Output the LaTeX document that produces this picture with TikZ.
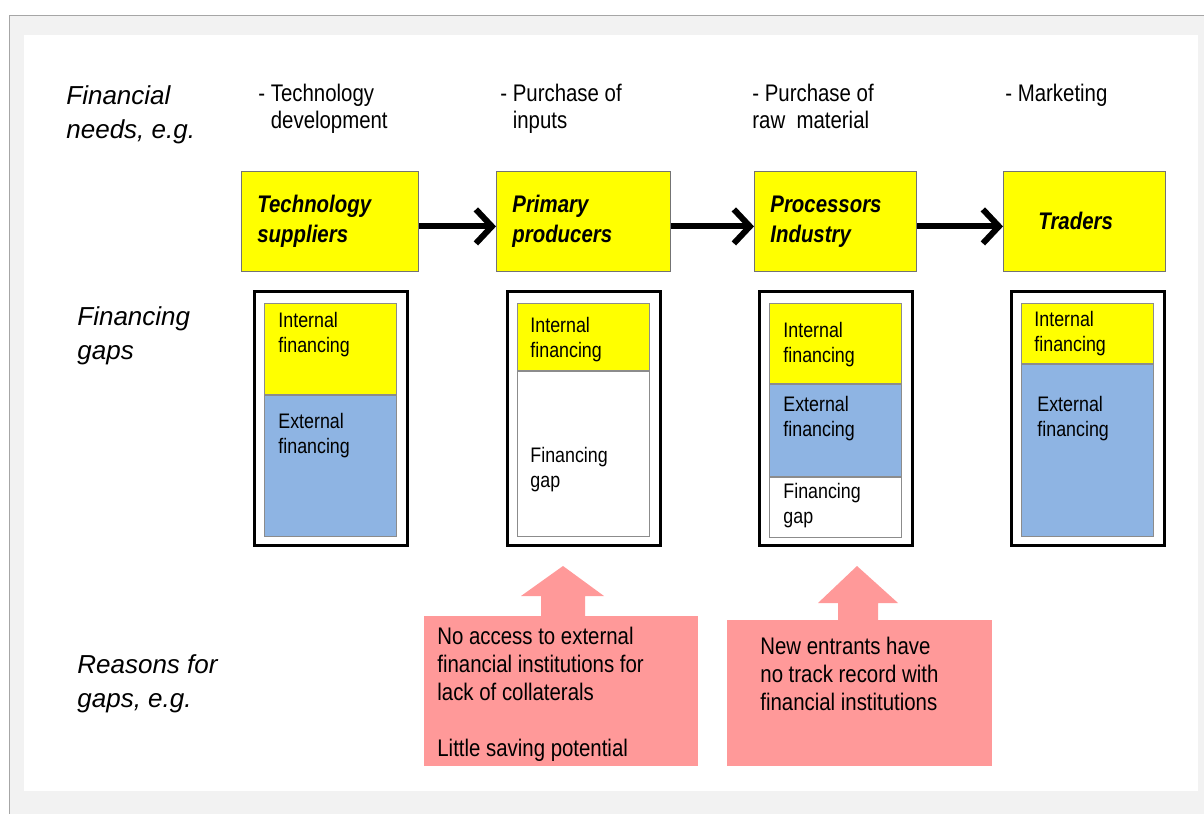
\documentclass[tikz,border=0pt]{standalone}
\usepackage{fontspec}
\setmainfont{Liberation Sans}
\newfontfamily\narrowsf[FakeStretch=0.85]{Liberation Sans}
\usetikzlibrary{positioning, arrows.meta}

\definecolor{chainyellow}{HTML}{FFFF00}
\definecolor{extblue}{HTML}{8EB4E3}
\definecolor{reasonpink}{HTML}{FF9999}
\definecolor{slidegray}{HTML}{F2F2F2}
\definecolor{rulegray}{HTML}{A6A6A6}

\begin{document}
\begin{tikzpicture}[x=0.5pt, y=-0.5pt,
    every node/.style={inner sep=0pt},
    rowlabel/.style={anchor=north west, align=left, font=\itshape\fontsize{13}{17}\selectfont},
    needtext/.style={anchor=north west, align=left, font=\narrowsf\fontsize{12}{13.5}\selectfont},
    actor/.style={draw=black!55, fill=chainyellow, anchor=north west, inner xsep=8pt, minimum height=50pt, align=left, font=\narrowsf\bfseries\itshape\fontsize{12}{15}\selectfont},
    gapframe/.style={draw, line width=1.5pt, minimum width=76.5pt, minimum height=127pt},
    bar/.style={draw=black!45, anchor=north west, minimum width=66pt},
    bartext/.style={anchor=north west, align=left, font=\narrowsf\fontsize{10.5}{12.5}\selectfont},
    reasontext/.style={anchor=north west, align=left, font=\narrowsf\fontsize{12}{14}\selectfont},
    flow/.style={line width=3pt, -{Straight Barb[length=8pt, width=17pt]}}
  ]
  % slide background
  \useasboundingbox (0,0) rectangle (1204,814);
  \fill[slidegray] (9,15) rectangle (1204,814);
  \draw[rulegray] (1204,15) -- (9,15) -- (9,814);
  \fill[white] (24,35) rectangle (1198,791);

  % row labels
  \node[rowlabel] (needs) at (66,85) {Financial\\needs, e.g.};
  \node[rowlabel] (gaps) at (77,306) {Financing\\gaps};
  \node[rowlabel] (reasons) at (77,654) {Reasons for\\gaps, e.g.};

  % financial needs
  \node[needtext] (need1) at (258,84) {- Technology\\\phantom{- }development};
  \node[needtext] (need2) at (500,84) {- Purchase of\\\phantom{- }inputs};
  \node[needtext] (need3) at (752,84) {- Purchase of\\raw~ material};
  \node[needtext] (need4) at (1005,84) {- Marketing};

  % value chain
  \node[actor, text width=72.5pt] (ts) at (241,171) {Technology\\suppliers};
  \node[actor, text width=71pt] (pp) at (496,171) {Primary\\producers};
  \node[actor, text width=65pt] (pi) at (754,171) {Processors\\Industry};
  \node[actor, text width=65pt] (tr) at (1003,171) {\hspace{9.5pt}Traders};

  \draw[flow] ([yshift=-2.5pt]ts.east) -- ([yshift=-2.5pt]pp.west);
  \draw[flow] ([yshift=-2.5pt]pp.east) -- ([yshift=-2.5pt]pi.west);
  \draw[flow] ([yshift=-2.5pt]pi.east) -- ([yshift=-2.5pt]tr.west);

  % financing gaps
  \node[gapframe] (frame1) at (330.5,418) {};
  \node[gapframe] (frame2) at (583.5,418) {};
  \node[gapframe] (frame3) at (836,418) {};
  \node[gapframe] (frame4) at (1087.5,418) {};

  \node[bar, fill=chainyellow, minimum height=45.5pt] (int1) at (264,303) {};
  \node[bar, fill=extblue, minimum height=70.5pt] (ext1) at (int1.south west) {};
  \node[bar, fill=chainyellow, minimum height=33.5pt] (int2) at (517,303) {};
  \node[bar, fill=white, minimum height=82.5pt] (gap2) at (int2.south west) {};
  \node[bar, fill=chainyellow, minimum height=40pt] (int3) at (769,303) {};
  \node[bar, fill=extblue, minimum height=46pt] (ext3) at (int3.south west) {};
  \node[bar, fill=white, minimum height=30pt] (gap3) at (ext3.south west) {};
  \node[bar, fill=chainyellow, minimum height=30pt] (int4) at (1021,303) {};
  \node[bar, fill=extblue, minimum height=86pt] (ext4) at (int4.south west) {};

  \node[bartext] (int1t) at (278,312) {Internal\\financing};
  \node[bartext] (ext1t) at (278,413) {External\\financing};
  \node[bartext] (int2t) at (530,317) {Internal\\financing};
  \node[bartext] (gap2t) at (530,447) {Financing\\gap};
  \node[bartext] (int3t) at (783,322) {Internal\\financing};
  \node[bartext] (ext3t) at (783,396) {External\\financing};
  \node[bartext] (gap3t) at (783,483) {Financing\\gap};
  \node[bartext] (int4t) at (1034,311) {Internal\\financing};
  \node[bartext] (ext4t) at (1037,396) {External\\financing};

  % reasons for gaps
  \fill[reasonpink] (424,616) rectangle (698,766);
  \fill[reasonpink] (541,617) -- (541,596) -- (521,596) -- (563,566) -- (604,596) -- (585,596) -- (585,617) -- cycle;
  \fill[reasonpink] (727,620) rectangle (992,766);
  \fill[reasonpink] (838,621) -- (838,603) -- (818,603) -- (857,566) -- (898,603) -- (878,603) -- (878,621) -- cycle;

  \node[reasontext] (reason2) at (437,627) {No access to external\\financial institutions for\\lack of collaterals\\[14pt]Little saving potential};
  \node[reasontext] (reason3) at (760,637) {New entrants have\\no track record with\\financial institutions};
\end{tikzpicture}
\end{document}
